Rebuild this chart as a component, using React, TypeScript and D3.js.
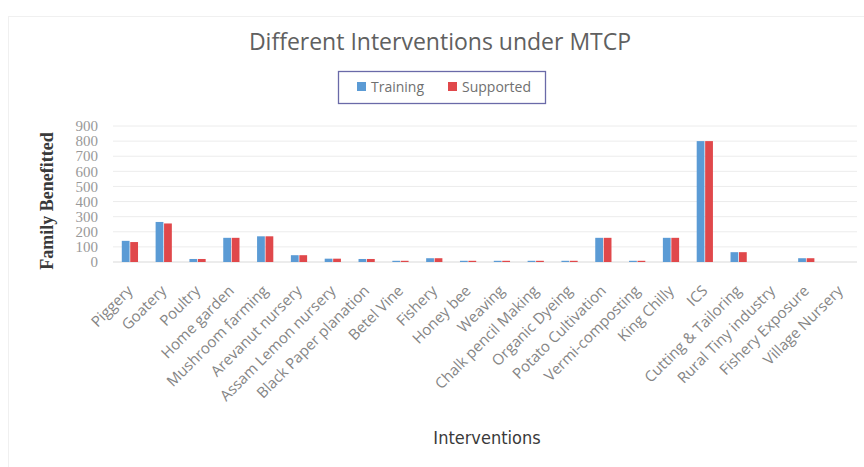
import React from "react";
import * as d3 from "d3";

const categories = [
  "Piggery", "Goatery", "Poultry", "Home garden", "Mushroom farming", "Arevanut nursery",
  "Assam Lemon nursery", "Black Paper planation", "Betel Vine", "Fishery", "Honey bee",
  "Weaving", "Chalk pencil Making", "Organic Dyeing", "Potato Cultivation", "Vermi-composting",
  "King Chilly", "ICS", "Cutting & Tailoring", "Rural Tiny industry", "Fishery Exposure", "Village Nursery",
];
const training = [140, 265, 20, 160, 170, 45, 22, 20, 8, 25, 8, 8, 8, 8, 160, 8, 160, 800, 65, 0, 25, 0];
const supported = [132, 255, 20, 160, 170, 45, 22, 20, 8, 25, 8, 8, 8, 8, 160, 8, 160, 800, 65, 0, 25, 0];
const seriesNames = ["Training", "Supported"];
const yTicks = [0, 100, 200, 300, 400, 500, 600, 700, 800, 900];

const colors = ["#5b9bd5", "#e0484b"];
const W = 864, H = 467;
const left = 113, right = 857, top = 126, bottom = 262;

export default function App() {
  const x0 = d3.scaleBand<string>().domain(categories).range([left, right]).paddingInner(0.48).paddingOuter(0.24);
  const x1 = d3.scaleBand<string>().domain(seriesNames).range([0, x0.bandwidth()]).padding(0.08);
  const y = d3.scaleLinear().domain([0, 900]).range([bottom, top]);
  const series = [training, supported];

  return (
    <svg width={W} height={H} style={{ position: "absolute", left: 0, top: 0, background: "#fff" }}>
      <rect x={8.5} y={16.5} width={W} height={H} fill="none" stroke="#f0f0f0" />
      <text x={440} y={50} textAnchor="middle" fontFamily="'Open Sans', sans-serif" fontSize={23} fill="#606060">
        Different Interventions under MTCP
      </text>
      {/* legend */}
      <rect x={338.5} y={71.5} width={207} height={32} fill="#fff" stroke="#6a6aa8" strokeWidth={1.3} />
      {seriesNames.map((s, i) => {
        const lx = i === 0 ? 357 : 448;
        return (
          <g key={s}>
            <rect x={lx} y={82} width={9} height={9} fill={colors[i]} />
            <text x={lx + 14} y={92} fontFamily="'Open Sans', sans-serif" fontSize={14} fill="#707070">{s}</text>
          </g>
        );
      })}
      {/* gridlines */}
      {yTicks.map((t) => (
        <g key={t}>
          <line x1={left} x2={right} y1={y(t)} y2={y(t)} stroke={t === 0 ? "#d9d9d9" : "#ececec"} strokeWidth={1} />
          <text x={98} y={y(t)} dy="0.35em" textAnchor="end" fontFamily="'Liberation Serif', serif" fontSize={15} fill="#999">
            {t}
          </text>
        </g>
      ))}
      {/* bars */}
      {categories.map((c, ci) => (
        <g key={c} transform={`translate(${x0(c)},0)`}>
          {series.map((vals, si) => (
            <rect
              key={si}
              x={x1(seriesNames[si])}
              y={y(vals[ci])}
              width={x1.bandwidth()}
              height={bottom - y(vals[ci])}
              fill={colors[si]}
            />
          ))}
        </g>
      ))}
      {/* x labels */}
      {categories.map((c) => {
        const cx = (x0(c) as number) + x0.bandwidth() / 2;
        return (
          <text
            key={c}
            transform={`translate(${cx},${288}) rotate(-45)`}
            textAnchor="end"
            dy="0.35em"
            fontFamily="'Open Sans', sans-serif"
            fontSize={15}
            fill="#858585"
          >
            {c}
          </text>
        );
      })}
      <text
        transform={`translate(47,201) rotate(-90)`}
        textAnchor="middle"
        dy="0.35em"
        fontFamily="'Liberation Serif', serif"
        fontWeight="bold"
        fontSize={18}
        fill="#3a3a3a"
      >
        Family Benefitted
      </text>
      <text
        x={487}
        y={444}
        textAnchor="middle"
        fontFamily="'Liberation Sans Narrow', 'DejaVu Sans Condensed', sans-serif"
        fontSize={18}
        fill="#3a3a3a"
      >
        Interventions
      </text>
    </svg>
  );
}
